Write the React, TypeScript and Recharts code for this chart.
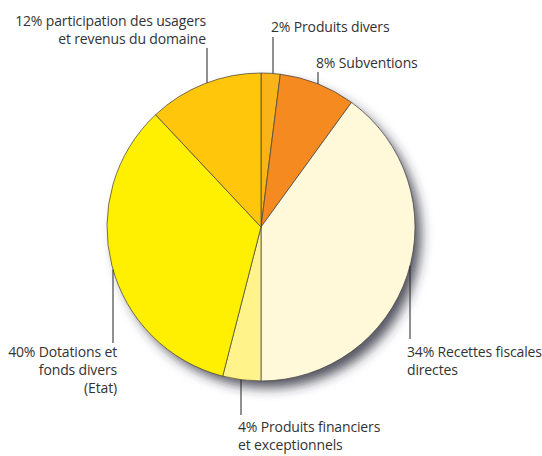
import { PieChart, Pie, Cell } from 'recharts'

// slices clockwise from 12 o'clock (values as drawn)
const names = [
  'Produits divers',
  'Subventions',
  'Recettes fiscales directes',
  'Produits financiers et exceptionnels',
  'Dotations et fonds divers (Etat)',
  'participation des usagers et revenus du domaine',
]
const values = [2, 8, 40, 4, 34, 12]
const labelLines = [
  ['2% Produits divers'],
  ['8% Subventions'],
  ['34% Recettes fiscales', 'directes'],
  ['4% Produits financiers', 'et exceptionnels'],
  ['40% Dotations et', 'fonds divers', '(Etat)'],
  ['12% participation des usagers', 'et revenus du domaine'],
]
const colors = ['#F9B417', '#F58A21', '#FFF9DA', '#FFF389', '#FFEF00', '#FFC60B']

// label layout: text anchor point, leader line x and its end next to the text
const layout = [
  { anchor: 'start', x: 271, y: 32, lineX: 273, lineEnd: 37 },
  { anchor: 'start', x: 316, y: 68, lineX: 318, lineEnd: 72 },
  { anchor: 'start', x: 407, y: 357, lineX: 410, lineEnd: 339 },
  { anchor: 'start', x: 238, y: 432, lineX: 241, lineEnd: 415 },
  { anchor: 'end', x: 117, y: 357, lineX: 113, lineEnd: 343 },
  { anchor: 'end', x: 206, y: 26, lineX: 207, lineEnd: 48 },
]

const data = names.map((n, i) => ({ name: n, value: values[i] }))

const renderLabel = (props: any) => {
  const { cx, cy, outerRadius, index } = props
  const l = layout[index]
  const dx = l.lineX - cx
  const h = Math.sqrt(Math.max(outerRadius * outerRadius - dx * dx, 0))
  const arcY = l.lineEnd < cy ? cy - h : cy + h
  return (
    <g key={`lbl-${index}`}>
      <line x1={l.lineX} y1={arcY} x2={l.lineX} y2={l.lineEnd} stroke="#222" strokeWidth={1} />
      <text
        x={l.x}
        y={l.y}
        textAnchor={l.anchor}
        fill="#333"
        style={{ fontFamily: '"Open Sans", sans-serif', fontSize: 14, letterSpacing: -0.15 }}
      >
        {labelLines[index].map((t, k) => (
          <tspan key={k} x={l.x} dy={k === 0 ? 0 : 18}>{t}</tspan>
        ))}
      </text>
    </g>
  )
}

export default function App() {
  return (
    <div style={{ position: 'absolute', left: 0, top: 0, background: '#fff' }}>
      <PieChart width={542} height={456} margin={{ top: 0, right: 0, bottom: 0, left: 0 }}>
        <defs>
          <filter id="pieShadow" x="-20%" y="-20%" width="150%" height="150%">
            <feDropShadow dx={7} dy={8} stdDeviation={6} floodColor="#2a2a3a" floodOpacity={0.8} />
          </filter>
        </defs>
        <Pie
          data={[{ name: 'shadow', value: 1 }]}
          dataKey="value"
          cx={261}
          cy={227}
          outerRadius={153}
          startAngle={90}
          endAngle={-270}
          stroke="none"
          isAnimationActive={false}
        >
          <Cell fill="#fff" filter="url(#pieShadow)" />
        </Pie>
        <Pie
          data={data}
          dataKey="value"
          cx={261}
          cy={227}
          outerRadius={154}
          startAngle={90}
          endAngle={-270}
          stroke="#3d3d3d"
          strokeWidth={0.7}
          label={renderLabel}
          labelLine={false}
          isAnimationActive={false}
        >
          {data.map((d, i) => (
            <Cell key={d.name} fill={colors[i]} />
          ))}
        </Pie>
      </PieChart>
    </div>
  )
}
